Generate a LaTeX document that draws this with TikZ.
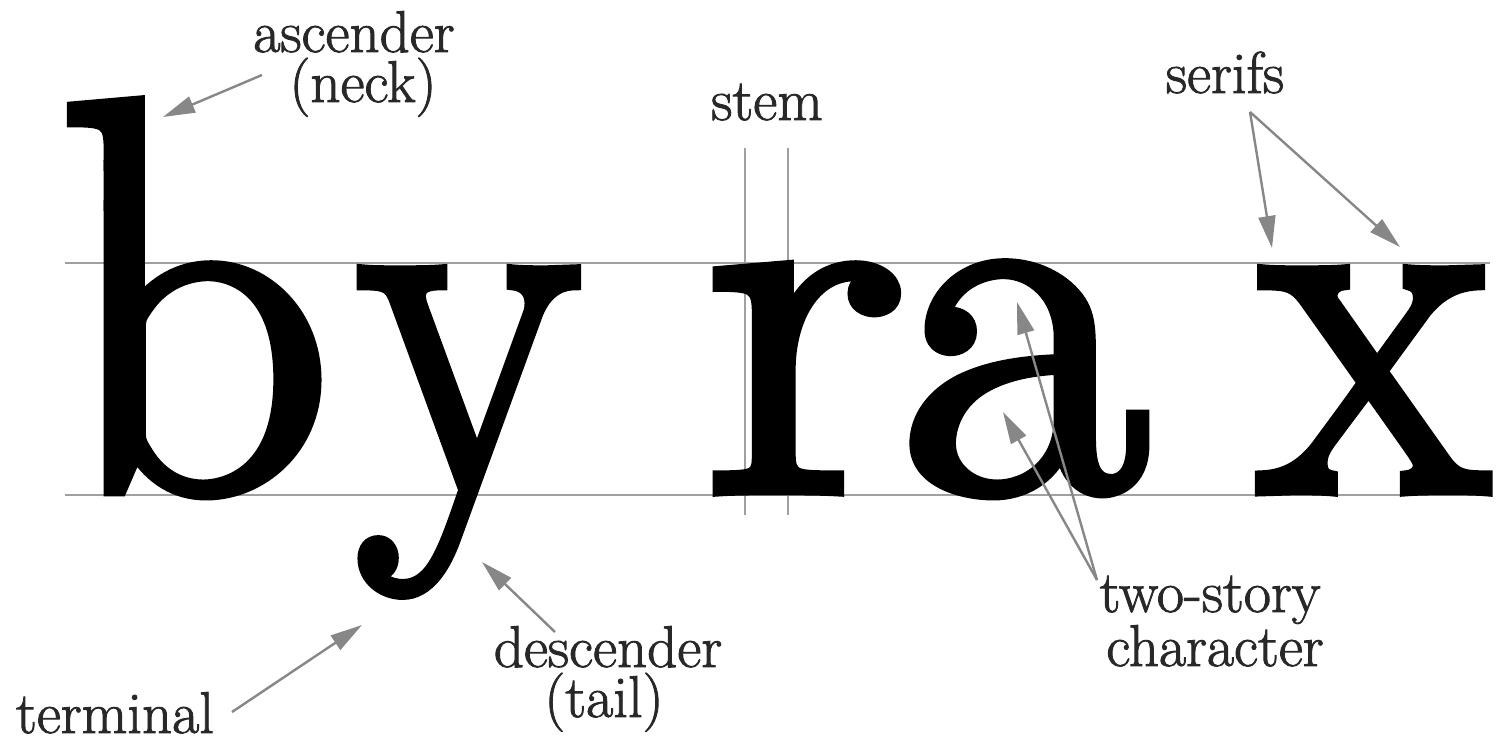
\documentclass[tikz,border=0pt]{standalone}
\usepackage{fontspec}
\newfontfamily\bigfont{Latin Modern Roman}[FakeBold=2.5]
\newfontfamily\lblfont{Latin Modern Roman}[FakeBold=1.5]
\usetikzlibrary{arrows.meta}
\definecolor{guidegray}{RGB}{160,160,160}
\definecolor{arrgray}{RGB}{135,135,135}
\definecolor{labelink}{RGB}{40,40,40}
\newcommand{\glyph}[2]{\scalebox{#1}[1.0]{#2}}
\begin{document}
\begin{tikzpicture}[x=1bp,y=-1bp,
  big/.style={inner sep=0pt, anchor=base, font=\bigfont\fontsize{510bp}{510bp}\selectfont},
  lbl/.style={inner sep=0pt, anchor=base, text=labelink, font=\lblfont\fontsize{59bp}{59bp}\selectfont},
  guide/.style={draw=guidegray, line width=2bp},
  arr/.style={draw=arrgray, line width=2.4bp, -{Triangle[length=32bp,width=17bp]}}]
\useasboundingbox (0,0) rectangle (1507,738);
% guide lines
\coordinate (xl) at (65,263);  \coordinate (xr) at (1490,263);
\coordinate (bl) at (65,495);  \coordinate (br) at (1490,495);
\draw[guide] (xl) -- (xr);
\draw[guide] (bl) -- (br);
\coordinate (s1t) at (745,148); \coordinate (s1b) at (745,515);
\coordinate (s2t) at (788,148); \coordinate (s2b) at (788,515);
\draw[guide] (s1t) -- (s1b);
\draw[guide] (s2t) -- (s2b);
% big letters
% b with a lengthened ascender: three clipped copies of the glyph
\begin{scope}
  \clip (20,200) rectangle (370,560);
  \node[big] (lbA) at (195,490) {\glyph{1.06}{b}};
\end{scope}
\begin{scope}
  \clip (20,160) rectangle (370,210);
  \node[big] (lbC) at (195,473) {\glyph{1.06}{b}};
\end{scope}
\begin{scope}
  \clip (20,40) rectangle (370,170);
  \node[big] (lbB) at (195,456) {\glyph{1.06}{b}};
\end{scope}
\node[big] (ly) at (469,490) {\glyph{0.9}{y}};
\node[big] (lr) at (804,490) {\glyph{1.13}{r}};
\node[big] (la) at (1024,490) {\glyph{1.06}{a}};
\node[big] (lx) at (1374,490) {\glyph{0.92}{x}};
% labels
\node[lbl] (asc1) at (354,52) {ascender};
\node[lbl] (asc2) at (363,102) {(neck)};
\node[lbl] (stem) at (767,120) {stem};
\node[lbl] (serifs) at (1225,93) {serifs};
\node[lbl] (two1) at (1210,612) {two-story};
\node[lbl] (two2) at (1215,666) {character};
\node[lbl] (desc1) at (608,667) {descender};
\node[lbl] (desc2) at (604,717) {(tail)};
\node[lbl] (term) at (115,733) {terminal};
% arrow ends
\coordinate (ascS) at (262,75);   \coordinate (ascE) at (163,117);
\coordinate (serS) at (1250,112); \coordinate (serE1) at (1272,248); \coordinate (serE2) at (1400,247);
\coordinate (twoS) at (1097,580); \coordinate (twoE1) at (1017,302); \coordinate (twoE2) at (1003,412);
\coordinate (desS) at (555,632);  \coordinate (desE) at (482,562);
\coordinate (terS) at (232,712);  \coordinate (terE) at (362,625);
\draw[arr] (ascS) -- (ascE);
\draw[arr] (serS) -- (serE1);
\draw[arr] (serS) -- (serE2);
\draw[arr] (twoS) -- (twoE1);
\draw[arr] (twoS) -- (twoE2);
\draw[arr] (desS) -- (desE);
\draw[arr] (terS) -- (terE);
\end{tikzpicture}
\end{document}
